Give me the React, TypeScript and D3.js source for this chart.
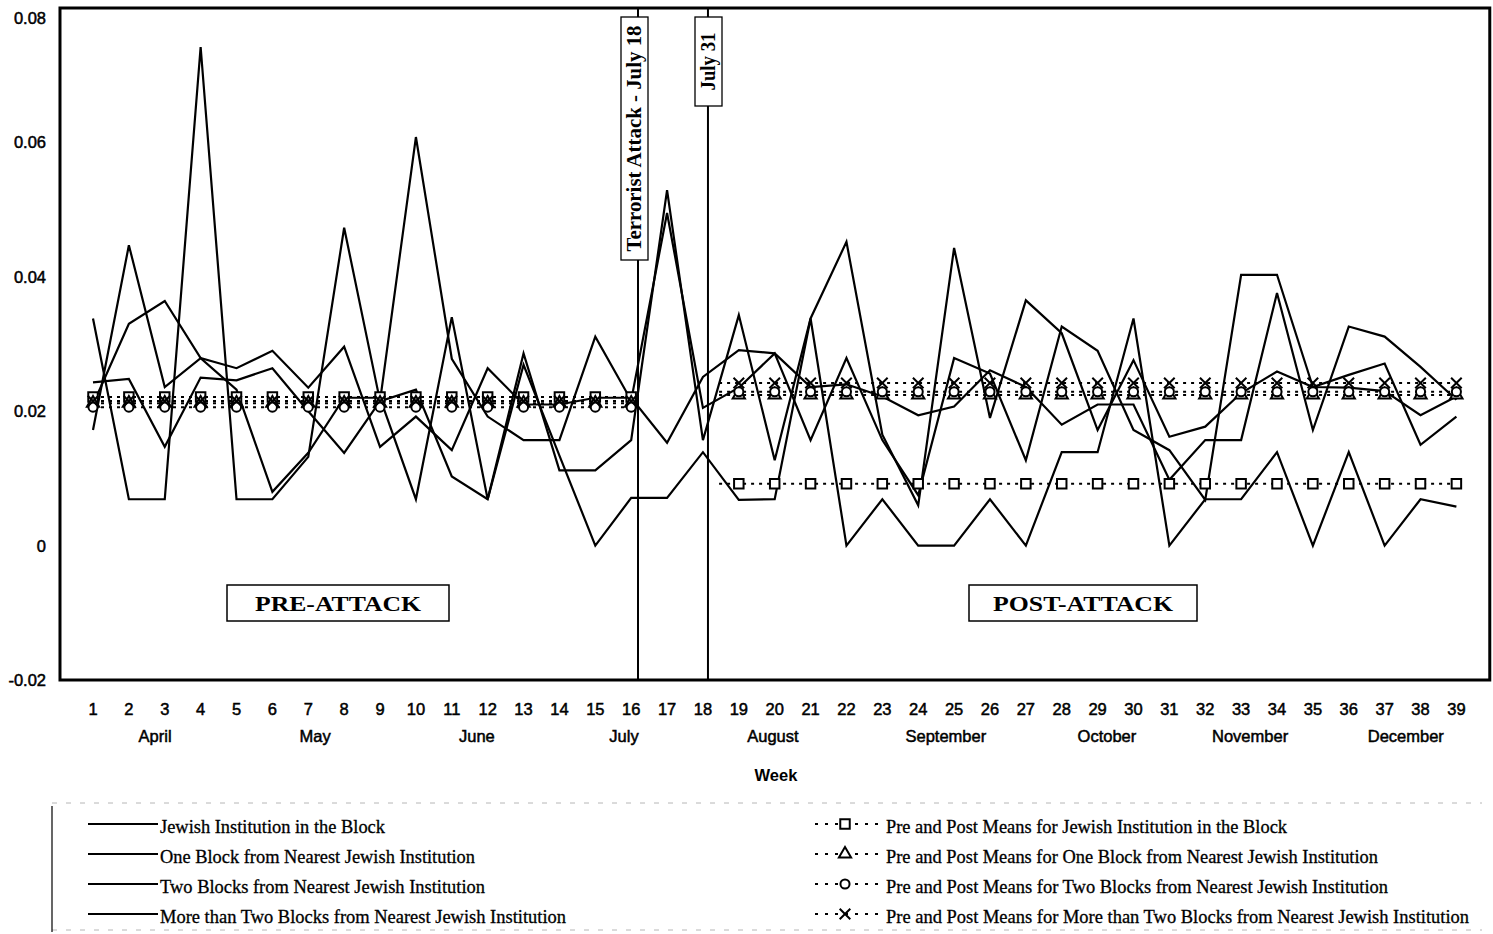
import React from "react";
import * as d3 from "d3";

// weekly values
const weeks = [1, 2, 3, 4, 5, 6, 7, 8, 9, 10, 11, 12, 13, 14, 15, 16, 17, 18, 19, 20,
  21, 22, 23, 24, 25, 26, 27, 28, 29, 30, 31, 32, 33, 34, 35, 36, 37, 38, 39];

const months = ["April", "May", "June", "July", "August", "September", "October", "November", "December"];
const monthWeeks = [2.73, 7.19, 11.7, 15.8, 19.95, 24.77, 29.26, 33.25, 37.59];

const yTicks = [0.08, 0.06, 0.04, 0.02, 0, -0.02];

const seriesNames = [
  "Jewish Institution in the Block",
  "One Block from Nearest Jewish Institution",
  "Two Blocks from Nearest Jewish Institution",
  "More than Two Blocks from Nearest Jewish Institution",
];

const jewishInBlock = [0.0243, 0.0248, 0.0147, 0.025, 0.0246, 0.0264, 0.02, 0.0138, 0.0215, 0.0232,
  0.0103, 0.0069, 0.0269, 0.0134, 0, 0.0071, 0.0071, 0.0139, 0.0068, 0.0069,
  0.0338, 0, 0.0069, 0, 0, 0.0069, 0, 0.0139, 0.0139, 0.0338,
  0, 0.0069, 0.0069, 0.0139, 0, 0.0139, 0, 0.0069, 0.0058];

const oneBlock = [0.0172, 0.0447, 0.0236, 0.0279, 0.0232, 0.008, 0.0138, 0.022, 0.022, 0.0069,
  0.034, 0.0069, 0.0286, 0.0112, 0.0112, 0.0157, 0.0529, 0.0157, 0.0343, 0.0127,
  0.0338, 0.0452, 0.0165, 0.006, 0.0443, 0.019, 0.0365, 0.0316, 0.0172, 0.0276,
  0.0162, 0.0177, 0.0227, 0.0259, 0.0236, 0.0254, 0.0271, 0.015, 0.0192];

const twoBlocks = [0.0338, 0.0069, 0.0069, 0.0742, 0.0069, 0.0069, 0.0132, 0.0473, 0.0215, 0.0608,
  0.0278, 0.0192, 0.0157, 0.0157, 0.0311, 0.0216, 0.0495, 0.0205, 0.0235, 0.0286,
  0.0157, 0.0279, 0.0157, 0.0075, 0.0279, 0.0256, 0.0127, 0.0326, 0.029, 0.0172,
  0.0142, 0.0068, 0.0403, 0.0403, 0.0236, 0.0235, 0.023, 0.0194, 0.0222];

const moreThanTwo = [0.021, 0.033, 0.0364, 0.0279, 0.0264, 0.029, 0.0235, 0.0296, 0.0147, 0.0192,
  0.0142, 0.0264, 0.021, 0.021, 0.022, 0.022, 0.0153, 0.0251, 0.0291, 0.0286,
  0.0236, 0.024, 0.0222, 0.0194, 0.0207, 0.0261, 0.0236, 0.018, 0.021, 0.021,
  0.0098, 0.0157, 0.0157, 0.0376, 0.0172, 0.0326, 0.0311, 0.0266, 0.0217];

const meanNames = [
  "Pre and Post Means for Jewish Institution in the Block",
  "Pre and Post Means for One Block from Nearest Jewish Institution",
  "Pre and Post Means for Two Blocks from Nearest Jewish Institution",
  "Pre and Post Means for More than Two Blocks from Nearest Jewish Institution",
];
const preMeans = [0.0221, 0.0212, 0.0206, 0.0215];
const postMeans = [0.0092, 0.0224, 0.0229, 0.0242];
const preWeeks = [1, 2, 3, 4, 5, 6, 7, 8, 9, 10, 11, 12, 13, 14, 15, 16];
const postWeeks = [19, 20, 21, 22, 23, 24, 25, 26, 27, 28, 29, 30, 31, 32, 33, 34, 35, 36, 37, 38, 39];

const events = ["Terrorist Attack - July 18", "July 31"];
const eventWeeks = [16.19, 18.14];

const symbolTypes = [d3.symbolSquare, d3.symbolTriangle, d3.symbolCircle, d3.symbolTimes];
const symbolSizes = [90, 65, 65, 75];

function Marker({ kind, cx, cy }: { kind: number; cx: number; cy: number }) {
  const d = d3.symbol().type(symbolTypes[kind]).size(symbolSizes[kind])() as string;
  return (
    <path d={d} transform={`translate(${cx},${cy})`}
      fill={kind === 3 ? "none" : "#fff"} stroke="#000" strokeWidth={2} />
  );
}

export default function App() {
  const width = 1493, height = 934;
  const x = d3.scaleLinear().domain([1, 39]).range([93, 1456.4]);
  const y = d3.scaleLinear().domain([-0.02, 0.08]).range([680, 8]);

  const series = [jewishInBlock, oneBlock, twoBlocks, moreThanTwo];
  const line = d3.line<number>().x((_, i) => x(weeks[i])).y(d => y(d));

  const left = x(0.08), right = x(39.93), top = y(0.08), bottom = y(-0.02);

  const sans = "'Liberation Sans', Arial, sans-serif";
  const serif = "'Liberation Serif', 'Times New Roman', serif";
  const legendRows = [827, 857, 887, 917];
  const leftWidths = [225, 315, 325, 406];
  const rightWidths = [401, 492, 502, 583];

  return (
    <svg width={width} height={height} style={{ position: "absolute", left: 0, top: 0, background: "#fff" }}>
      <rect x={0} y={0} width={width} height={height} fill="#fff" />

      {/* data lines */}
      {series.map((s, i) => (
        <path key={i} d={line(s) as string} fill="none" stroke="#000" strokeWidth={2.2} strokeLinejoin="miter" />
      ))}

      {/* pre and post means */}
      {preMeans.map((m, k) => (
        <line key={"pre" + k} x1={x(preWeeks[0])} x2={x(preWeeks[preWeeks.length - 1])} y1={y(m)} y2={y(m)}
          stroke="#000" strokeWidth={2} strokeDasharray="3 5" />
      ))}
      {postMeans.map((m, k) => (
        <line key={"post" + k} x1={x(18.45)} x2={x(postWeeks[postWeeks.length - 1])} y1={y(m)} y2={y(m)}
          stroke="#000" strokeWidth={2} strokeDasharray="3 5" />
      ))}
      {preMeans.map((m, k) => preWeeks.map(w => <Marker key={`pm${k}-${w}`} kind={k} cx={x(w)} cy={y(m)} />))}
      {postMeans.map((m, k) => postWeeks.map(w => <Marker key={`qm${k}-${w}`} kind={k} cx={x(w)} cy={y(m)} />))}

      {/* event lines */}
      {eventWeeks.map((w, i) => (
        <line key={"ev" + i} x1={x(w)} x2={x(w)} y1={top} y2={bottom} stroke="#000" strokeWidth={2} />
      ))}
      <rect x={621} y={17} width={27} height={243} fill="#fff" stroke="#000" strokeWidth={1.3} />
      <text transform={`translate(${641},${138.5}) rotate(-90)`} textAnchor="middle"
        fontFamily={serif} fontWeight="bold" fontSize={20} textLength={226} lengthAdjust="spacingAndGlyphs">{events[0]}</text>
      <rect x={695} y={17} width={27} height={89} fill="#fff" stroke="#000" strokeWidth={1.3} />
      <text transform={`translate(${715},${61.5}) rotate(-90)`} textAnchor="middle"
        fontFamily={serif} fontWeight="bold" fontSize={20} textLength={58} lengthAdjust="spacingAndGlyphs">{events[1]}</text>

      {/* period boxes */}
      <rect x={227} y={585} width={222} height={36} fill="#fff" stroke="#000" strokeWidth={1.5} />
      <text x={338} y={611} textAnchor="middle" fontFamily={serif} fontWeight="bold" fontSize={22}
        textLength={166} lengthAdjust="spacingAndGlyphs">PRE-ATTACK</text>
      <rect x={969} y={585} width={228} height={36} fill="#fff" stroke="#000" strokeWidth={1.5} />
      <text x={1083} y={611} textAnchor="middle" fontFamily={serif} fontWeight="bold" fontSize={22}
        textLength={180} lengthAdjust="spacingAndGlyphs">POST-ATTACK</text>

      {/* frame */}
      <rect x={left} y={top} width={right - left} height={bottom - top} fill="none" stroke="#000" strokeWidth={3} />

      {/* y axis labels */}
      {yTicks.map(t => (
        <text key={"y" + t} x={46} y={Math.max(y(t), 18)} textAnchor="end" dominantBaseline="central"
          fontFamily={sans} fontSize={16.5} stroke="#000" strokeWidth={0.5}>{t === 0 ? "0" : t.toFixed(2)}</text>
      ))}

      {/* x axis labels */}
      {weeks.map(w => (
        <text key={"x" + w} x={x(w)} y={709} textAnchor="middle" dominantBaseline="central"
          fontFamily={sans} fontSize={16.5} stroke="#000" strokeWidth={0.5}>{w}</text>
      ))}
      {months.map((m, i) => (
        <text key={m} x={x(monthWeeks[i])} y={736} textAnchor="middle" dominantBaseline="central"
          fontFamily={sans} fontSize={16.5} stroke="#000" strokeWidth={0.5}>{m}</text>
      ))}
      <text x={776} y={775} textAnchor="middle" dominantBaseline="central" fontFamily={sans}
        fontSize={16.5} fontWeight="bold">Week</text>

      {/* legend */}
      <line x1={52} x2={1482} y1={803} y2={803} stroke="#888" strokeWidth={1} strokeDasharray="5 9" opacity={0.6} />
      <line x1={52} x2={1482} y1={930} y2={930} stroke="#888" strokeWidth={1} strokeDasharray="5 9" opacity={0.6} />
      <line x1={52} x2={52} y1={806} y2={932} stroke="#000" strokeWidth={1.2} />
      {seriesNames.map((n, i) => (
        <g key={n}>
          <line x1={88} x2={158} y1={legendRows[i] - 3} y2={legendRows[i] - 3} stroke="#000" strokeWidth={2} />
          <text x={160} y={legendRows[i]} dominantBaseline="central" fontFamily={serif} fontSize={18.5}
            stroke="#000" strokeWidth={0.3}
            textLength={leftWidths[i]} lengthAdjust="spacingAndGlyphs">{n}</text>
        </g>
      ))}
      {meanNames.map((n, i) => (
        <g key={n}>
          <line x1={815} x2={883} y1={legendRows[i] - 3} y2={legendRows[i] - 3} stroke="#000" strokeWidth={2}
            strokeDasharray="3 7" />
          <Marker kind={i} cx={845} cy={legendRows[i] - 3} />
          <text x={886} y={legendRows[i]} dominantBaseline="central" fontFamily={serif} fontSize={18.5}
            stroke="#000" strokeWidth={0.3}
            textLength={rightWidths[i]} lengthAdjust="spacingAndGlyphs">{n}</text>
        </g>
      ))}
    </svg>
  );
}
